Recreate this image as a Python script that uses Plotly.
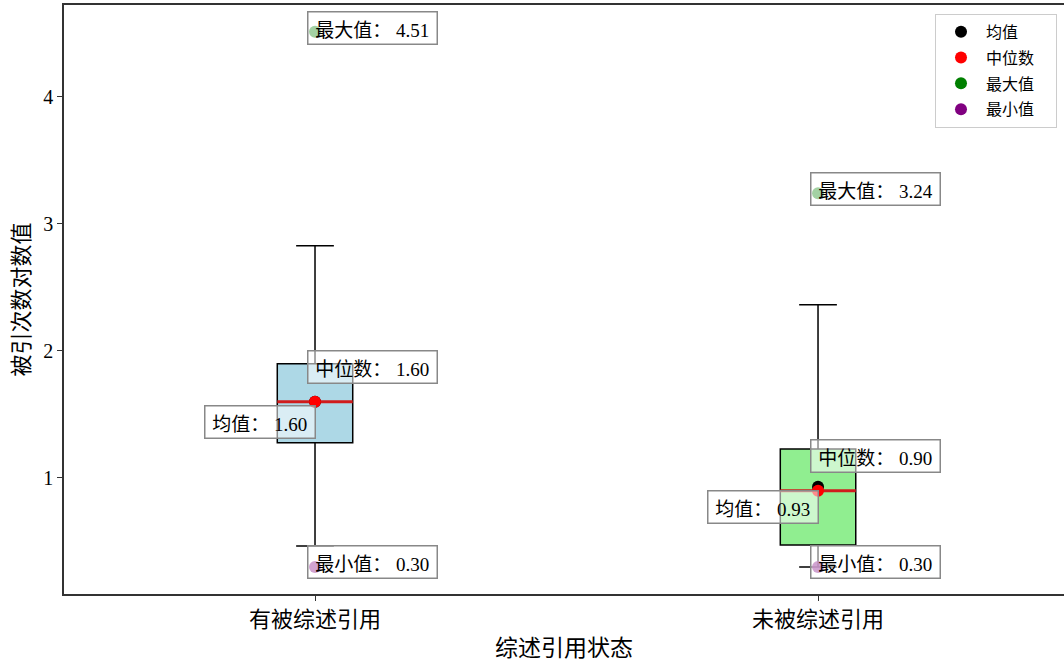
import plotly.graph_objects as go

# Review-citation status groups (log of citation counts)
categories = ["有被综述引用", "未被综述引用"]
positions = [1, 2]
q1_vals = [1.276, 0.472]
median_vals = [1.60, 0.90]
q3_vals = [1.898, 1.228]
lower_whisker = [0.465, 0.30]
upper_whisker = [2.827, 2.362]
mean_vals = [1.60, 0.93]
max_vals = [4.51, 3.24]
min_vals = [0.30, 0.30]
box_colors = ["#ADD8E6", "#90EE90"]

BOX_W = 0.15
LATIN = "Liberation Serif, Times New Roman, Noto Sans CJK SC, serif"
CJK = "Noto Sans CJK SC"

fig = go.Figure()

for i, pos in enumerate(positions):
    fig.add_trace(go.Box(
        x=[pos], q1=[q1_vals[i]], median=[median_vals[i]], q3=[q3_vals[i]],
        lowerfence=[lower_whisker[i]], upperfence=[upper_whisker[i]],
        width=BOX_W, whiskerwidth=0.5, fillcolor=box_colors[i],
        line=dict(color="black", width=1.5), boxpoints=False,
        showlegend=False, hoverinfo="skip",
    ))
    # red median bar across the box
    fig.add_trace(go.Scatter(
        x=[pos - BOX_W / 2, pos + BOX_W / 2], y=[median_vals[i]] * 2,
        mode="lines", line=dict(color="#d01c1c", width=3),
        showlegend=False, hoverinfo="skip",
    ))

# Summary points
fig.add_trace(go.Scatter(x=positions, y=max_vals, mode="markers",
                         marker=dict(color="green", size=12, opacity=0.8),
                         showlegend=False))
fig.add_trace(go.Scatter(x=positions, y=min_vals, mode="markers",
                         marker=dict(color="purple", size=12, opacity=0.8),
                         showlegend=False))
fig.add_trace(go.Scatter(x=positions, y=mean_vals, mode="markers",
                         marker=dict(color="black", size=12),
                         showlegend=False))
fig.add_trace(go.Scatter(x=positions, y=median_vals, mode="markers",
                         marker=dict(color="red", size=12),
                         showlegend=False))

# Legend entries
PAD = "&nbsp;" * 4
for name, col in [("均值", "black"), ("中位数", "red"),
                  ("最大值", "green"), ("最小值", "purple")]:
    fig.add_trace(go.Scatter(x=[None], y=[None], mode="markers",
                             name=name + PAD, legendgroup=name,
                             marker=dict(color=col, size=12)))

box_style = dict(showarrow=False, bgcolor="rgba(255,255,255,0.55)",
                 bordercolor="#888888", borderwidth=1.5, borderpad=2,
                 font=dict(family=LATIN, size=19, color="black"),
                 xref="x", yref="y")


def label(head, value):
    return (f'&nbsp;<span style="font-family:{CJK}">{head}：</span>'
            f'&nbsp;{value:.2f}&nbsp;')


for i, pos in enumerate(positions):
    fig.add_annotation(x=pos, y=max_vals[i], text=label("最大值", max_vals[i]),
                       xanchor="left", yanchor="middle", xshift=-8, yshift=4,
                       **box_style)
    fig.add_annotation(x=pos, y=min_vals[i], text=label("最小值", min_vals[i]),
                       xanchor="left", yanchor="middle", xshift=-8, yshift=5,
                       **box_style)
    fig.add_annotation(x=pos, y=median_vals[i], text=label("中位数", median_vals[i]),
                       xanchor="left", yanchor="bottom", xshift=-8, yshift=18,
                       **box_style)
    fig.add_annotation(x=pos, y=mean_vals[i], text=label("均值", mean_vals[i]),
                       xanchor="right", yanchor="top", xshift=1, yshift=-3,
                       **box_style)

axis_line = dict(showline=True, linecolor="#333333", linewidth=1.5,
                 ticks="outside", ticklen=5, tickcolor="#333333",
                 showgrid=False, zeroline=False)

fig.update_layout(
    width=1064, height=663, autosize=False,
    margin=dict(l=64, r=0, t=5, b=69),
    plot_bgcolor="white", paper_bgcolor="white",
    font=dict(family=LATIN, color="black"),
    xaxis=dict(range=[0.501, 2.489], tickvals=positions, ticktext=categories,
               tickfont=dict(size=22), mirror=True,
               title=dict(text="综述引用状态", font=dict(size=23), standoff=9),
               **axis_line),
    yaxis=dict(range=[0.087, 4.72], tickvals=[1, 2, 3, 4],
               tickfont=dict(size=20), mirror=False,
               title=dict(text="被引次数对数值", font=dict(size=22), standoff=8),
               **axis_line),
    legend=dict(x=0.871, y=0.985, xanchor="left", yanchor="top",
                bgcolor="white", bordercolor="#cccccc", borderwidth=1,
                font=dict(size=16), tracegroupgap=2, traceorder="grouped",
                itemwidth=40),
)

fig.write_html("out.html")
